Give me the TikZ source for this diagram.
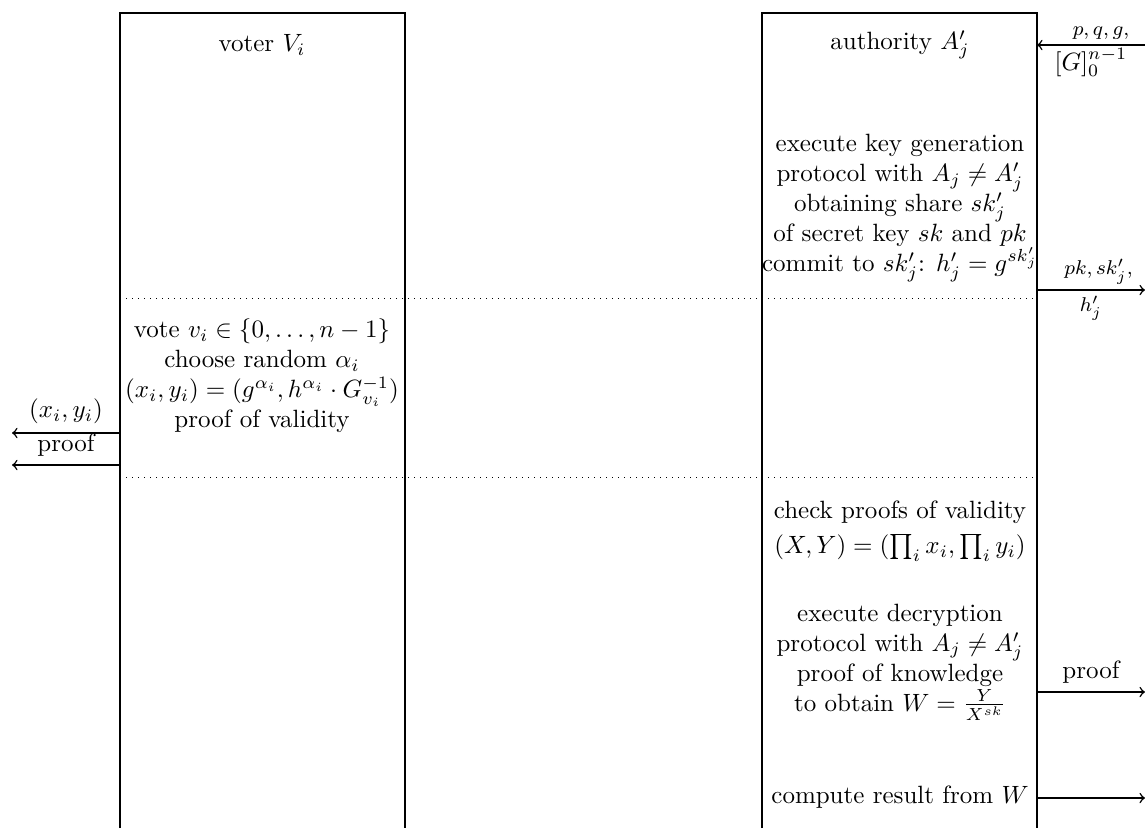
\documentclass[tikz,border=0pt]{standalone}
\usepackage{amsmath}
\usepackage{amssymb}
\usetikzlibrary{positioning}

\begin{document}
\begin{tikzpicture}[x=0.4pt,y=-0.4pt,
    party/.style={semithick},
    phase/.style={dotted},
    msg/.style={semithick,->},
    action/.style={align=center},
    tag/.style={font=\footnotesize,inner sep=2pt}]
    \useasboundingbox (0,0) rectangle (1145,828);
    % columns of the two parties
    \coordinate (voterL) at (120,13);
    \coordinate (voterR) at (405,13);
    \coordinate (authL) at (762,13);
    \coordinate (authR) at (1037,13);
    \draw[party] (120,828) -- (voterL) -- (voterR) -- (405,828);
    \draw[party] (762,828) -- (authL) -- (authR) -- (1037,828);
    % phases
    \draw[phase] (120,298) -- (1037,298);
    \draw[phase] (120,477) -- (1037,477);
    % headers
    \node (voter) at (262,45) {voter \(V_i\)};
    \node (auth) at (900,45) {authority \(A'_j\)};
    % key generation
    \node[action] (keygen) at (900,208) {execute key generation\\
        protocol with \(A_j \neq A'_j\)\\
        obtaining share \(sk'_j\)\\
        of secret key \(sk\) and \(pk\)\\
        commit to \(sk'_j\): \(h'_j = g^{sk'_j}\)};
    % voting
    \node[action] (vote) at (262,376) {vote \(v_i \in \{0,\ldots,n-1\}\)\\
        choose random \(\alpha_i\)\\
        \((x_i,y_i) = (g^{\alpha_i}, h^{\alpha_i}\cdot G_{v_i}^{-1})\)\\
        proof of validity};
    % tallying
    \node[action] (check) at (900,531) {check proofs of validity\\[2pt]
        \((X,Y) = (\prod_i x_i, \prod_i y_i)\)};
    \node[action] (decrypt) at (900,662) {execute decryption\\
        protocol with \(A_j \neq A'_j\)\\
        proof of knowledge\\
        to obtain \(W = \frac{Y}{X^{sk}}\)};
    \node (result) at (900,797) {compute result from \(W\)};
    % messages
    \coordinate (paramsIn) at (1145,45);
    \coordinate (keysOut) at (1145,290);
    \coordinate (ballotOut) at (12,433);
    \coordinate (proofOut) at (12,465);
    \coordinate (decOut) at (1145,692);
    \coordinate (resOut) at (1145,798);
    \draw[msg] (paramsIn) -- (authR |- paramsIn)
        node[tag,midway,above,xshift=4pt] {\(p,q,g,\)}
        node[midway,below,inner sep=1pt] {\([G]_0^{n-1}\)};
    \draw[msg] (authR |- keysOut) -- (keysOut)
        node[tag,midway,above,xshift=3pt] {\(pk, sk'_j,\)}
        node[tag,midway,below] {\(h'_j\)};
    \draw[msg] (voterL |- ballotOut) -- (ballotOut)
        node[midway,above] {\((x_i,y_i)\)};
    \draw[msg] (voterL |- proofOut) -- (proofOut)
        node[midway,above] {proof};
    \draw[msg] (authR |- decOut) -- (decOut)
        node[midway,above] {proof};
    \draw[msg] (authR |- resOut) -- (resOut);
\end{tikzpicture}
\end{document}
